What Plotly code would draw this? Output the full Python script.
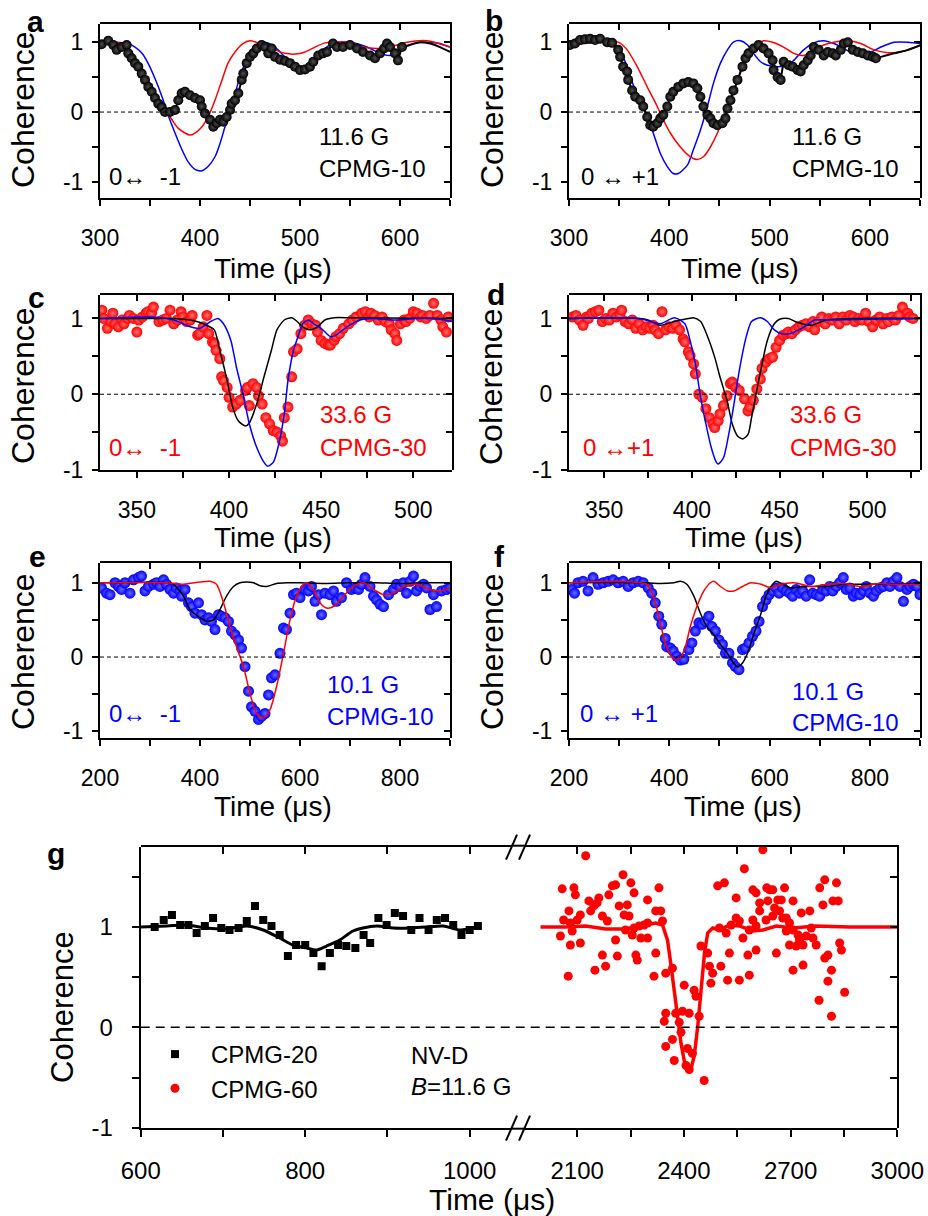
import plotly.graph_objects as go

W, H = 928, 1216
def fx(px): return px / W
def fy(py): return 1 - py / H

FONT = "Liberation Sans, Arial, sans-serif"
RED = "#ff0000"; BLUE = "#0000ff"; BLACK = "#000000"

# ---------------- panel a (0 <-> -1, 11.6 G, CPMG-10) ----------------
a_dat_x = [301.7, 308.3, 313.3, 316.7, 321.7, 326.7, 328.3, 331.7, 335, 338.3, 341.7, 345, 348.3, 351.7, 355, 358.3, 361.7, 365, 370, 375, 378.3, 381.7, 385, 390, 395, 400, 401.7, 405, 410, 413.3, 416.7, 420, 423.3, 426.7, 430, 431.7, 435, 438.3, 441.7, 443.3, 446.7, 450, 453.3, 456.7, 461.7, 465, 468.3, 471.7, 475, 480, 485, 490, 495, 500, 505, 510, 513.3, 518.3, 523, 527, 533, 537, 543, 550, 557, 563, 570, 575, 580, 584, 587, 590, 595, 598, 602]
a_dat_y = [0.97, 1.02, 0.96, 0.89, 0.93, 0.96, 0.84, 0.77, 0.70, 0.65, 0.55, 0.46, 0.36, 0.29, 0.20, 0.12, 0.07, 0.0, 0.0, 0.03, 0.17, 0.27, 0.29, 0.24, 0.20, 0.17, 0.08, -0.02, -0.11, -0.21, -0.16, -0.11, -0.14, -0.07, 0.03, 0.12, 0.17, 0.27, 0.46, 0.55, 0.70, 0.79, 0.84, 0.91, 0.96, 0.93, 0.84, 0.91, 0.79, 0.75, 0.73, 0.70, 0.65, 0.60, 0.61, 0.65, 0.72, 0.81, 0.84, 0.86, 0.98, 0.93, 0.93, 0.96, 0.91, 0.86, 0.81, 0.77, 0.84, 0.91, 0.98, 0.93, 0.84, 0.74, 0.93]
a_bk_x = [300, 301.7, None, 602, 610, 620, 630, 640, 650]
a_bk_y = [0.95, 0.97, None, 0.93, 0.96, 1.0, 0.98, 0.93, 0.86]
a_blue_x = [300, 315, 328, 335, 342, 348, 355, 362, 368, 375, 382, 388, 395, 402, 408, 415, 420, 425, 432, 438, 445, 452, 458, 465, 472, 478, 485, 492, 498, 505, 512, 518, 525, 533, 550, 567, 580, 590, 600, 613, 627, 640, 650]
a_blue_y = [0.99, 1.0, 0.98, 0.93, 0.84, 0.70, 0.48, 0.22, -0.04, -0.30, -0.54, -0.71, -0.82, -0.84, -0.78, -0.64, -0.45, -0.21, 0.10, 0.41, 0.70, 0.89, 0.98, 1.0, 0.96, 0.89, 0.79, 0.72, 0.65, 0.65, 0.74, 0.84, 0.91, 0.99, 1.0, 0.93, 0.84, 0.81, 0.89, 0.98, 1.0, 0.98, 0.93]
a_red_x = [300, 312, 322, 332, 338, 345, 352, 358, 365, 372, 378, 385, 390, 395, 402, 408, 415, 422, 428, 435, 443, 450, 458, 465, 475, 485, 495, 505, 515, 525, 535, 550, 563, 577, 590, 607, 627, 650]
a_red_y = [0.96, 1.0, 0.98, 0.84, 0.70, 0.53, 0.36, 0.20, 0.03, -0.11, -0.23, -0.30, -0.33, -0.30, -0.21, -0.07, 0.17, 0.46, 0.70, 0.86, 0.98, 1.02, 0.99, 0.96, 0.89, 0.84, 0.83, 0.86, 0.93, 0.99, 1.0, 1.0, 0.93, 0.91, 0.93, 1.0, 1.02, 0.93]

# ---------------- panel b (0 <-> +1, 11.6 G, CPMG-10) ----------------
b_dat_x = [301, 306, 311, 316, 321, 326, 331, 338, 343, 349, 351, 354, 358, 359, 363, 366, 371, 374, 378, 381, 384, 388, 391, 394, 398, 401, 404, 409, 414, 419, 424, 428, 431, 434, 438, 441, 444, 448, 453, 456, 458, 461, 464, 468, 473, 476, 479, 484, 489, 494, 499, 503, 504, 508, 511, 514, 519, 523, 528, 531, 534, 538, 541, 544, 549, 554, 558, 563, 566, 571, 574, 578, 583, 588, 593, 598, 603, 606]
b_dat_y = [0.96, 0.98, 1.03, 1.04, 1.05, 1.03, 1.05, 1.0, 0.99, 0.89, 0.79, 0.65, 0.58, 0.46, 0.31, 0.22, 0.17, 0.08, -0.07, -0.19, -0.21, -0.16, -0.09, -0.04, 0.08, 0.22, 0.29, 0.36, 0.41, 0.43, 0.41, 0.34, 0.22, 0.08, -0.04, -0.09, -0.16, -0.19, -0.16, -0.09, 0.05, 0.17, 0.31, 0.46, 0.65, 0.77, 0.84, 0.91, 0.96, 0.91, 0.84, 0.74, 0.60, 0.50, 0.46, 0.72, 0.67, 0.65, 0.60, 0.58, 0.67, 0.74, 0.81, 0.93, 0.89, 0.81, 0.86, 0.84, 0.81, 0.89, 0.98, 1.0, 0.89, 0.86, 0.84, 0.81, 0.79, 0.77]
b_bk_x = [300, 301, None, 606, 611, 624, 638, 651]
b_bk_y = [0.93, 0.96, None, 0.77, 0.79, 0.84, 0.89, 0.96]
b_red_x = [300, 320, 340, 349, 358, 368, 378, 388, 394, 401, 411, 421, 428, 434, 441, 448, 454, 461, 468, 474, 481, 488, 494, 503, 514, 524, 534, 544, 554, 564, 578, 591, 604, 618, 631, 651]
b_red_y = [0.95, 0.99, 1.0, 1.0, 0.89, 0.65, 0.36, 0.08, -0.11, -0.30, -0.50, -0.64, -0.68, -0.64, -0.50, -0.30, -0.07, 0.17, 0.46, 0.70, 0.89, 0.98, 1.02, 1.0, 0.93, 0.84, 0.81, 0.89, 0.96, 1.0, 1.02, 0.98, 0.89, 0.85, 0.86, 0.96]
b_blue_x = [300, 320, 340, 349, 358, 364, 371, 378, 384, 391, 398, 404, 409, 418, 424, 431, 438, 444, 451, 458, 464, 471, 478, 484, 491, 498, 508, 518, 524, 534, 544, 554, 564, 574, 583, 591, 601, 611, 624, 638, 651]
b_blue_y = [0.95, 0.99, 1.0, 0.93, 0.65, 0.39, 0.17, -0.07, -0.30, -0.59, -0.78, -0.88, -0.88, -0.76, -0.54, -0.26, 0.08, 0.41, 0.70, 0.89, 1.0, 1.02, 0.96, 0.84, 0.72, 0.67, 0.65, 0.67, 0.74, 0.89, 0.99, 1.02, 0.98, 0.91, 0.84, 0.84, 0.86, 0.93, 1.0, 1.0, 0.98]

# ---------------- panel c (0 <-> -1, 33.6 G, CPMG-30) ----------------
c_dat_x = [331, 332, 334, 336, 337, 338, 340, 342, 343, 345, 346, 348, 350, 351, 353, 355, 356, 358, 359, 362, 364, 366, 368, 370, 372, 374, 375, 377, 379, 380, 383, 384, 386, 388, 389, 391, 392, 393, 395, 396, 397, 399, 400, 402, 404, 406, 409, 410, 411, 413, 415, 416, 418, 420, 422, 424, 426, 428, 429, 430, 432, 434, 435, 437, 439, 441, 443, 445, 447, 448, 450, 452, 454, 455, 457, 458, 460, 462, 465, 467, 469, 472, 474, 476, 477, 479, 481, 483, 485, 487, 488, 490, 491, 493, 495, 496, 498, 500, 502, 504, 505, 507, 509, 511, 513, 515, 516, 518, 519]
c_dat_y = [1.11, 1.0, 0.87, 0.96, 1.07, 0.93, 0.89, 0.98, 0.93, 1.0, 1.04, 1.0, 0.82, 0.98, 1.02, 1.07, 1.09, 1.07, 1.15, 0.96, 0.98, 1.0, 1.11, 0.93, 0.98, 1.09, 1.02, 0.96, 0.98, 1.04, 0.78, 0.80, 0.89, 1.04, 0.80, 0.69, 0.67, 0.58, 0.47, 0.23, 0.18, 0.09, -0.04, -0.17, -0.13, -0.08, 0.05, 0.09, -0.15, 0.14, 0.09, -0.02, -0.13, -0.31, -0.39, -0.48, -0.50, -0.55, -0.62, -0.31, -0.17, 0.23, 0.56, 0.60, 0.80, 0.91, 0.98, 0.93, 0.91, 0.82, 0.71, 0.67, 0.65, 0.65, 0.71, 0.76, 0.80, 0.87, 0.93, 0.98, 1.02, 1.07, 1.09, 1.02, 1.07, 1.04, 0.98, 1.02, 0.96, 0.93, 0.85, 0.80, 0.71, 0.93, 0.98, 0.96, 1.0, 1.09, 1.07, 1.02, 1.04, 1.0, 1.04, 1.20, 1.04, 0.98, 0.89, 0.82, 1.02]
c_blue_x = [330, 357, 370, 379, 384, 390, 394, 397, 401, 404, 408, 411, 415, 419, 421, 424, 427, 430, 432, 435, 438, 440, 443, 446, 450, 455, 458, 464, 471, 478, 489, 502, 511, 521]
c_blue_y = [1.0, 1.02, 0.98, 0.89, 0.87, 0.96, 1.0, 0.93, 0.71, 0.36, -0.04, -0.39, -0.70, -0.90, -0.95, -0.90, -0.66, -0.26, 0.18, 0.58, 0.80, 0.93, 0.98, 0.93, 0.87, 0.76, 0.78, 0.89, 0.98, 1.0, 0.98, 1.0, 1.0, 0.96]
c_black_x = [330, 357, 370, 381, 387, 392, 395, 399, 402, 405, 409, 411, 415, 419, 423, 426, 430, 434, 437, 440, 444, 448, 452, 457, 466, 521]
c_black_y = [1.0, 1.0, 1.0, 0.97, 0.92, 0.85, 0.58, 0.18, -0.17, -0.35, -0.42, -0.38, -0.13, 0.23, 0.58, 0.85, 0.98, 1.01, 0.96, 0.89, 0.85, 0.89, 0.98, 1.01, 1.01, 1.0]

# ---------------- panel d (0 <-> +1, 33.6 G, CPMG-30) ----------------
d_dat_x = [332, 334, 336, 338, 340, 341, 343, 345, 347, 349, 351, 353, 355, 357, 359, 360, 362, 364, 366, 368, 370, 372, 374, 376, 378, 379, 381, 383, 385, 387, 389, 391, 393, 395, 396, 398, 399, 401, 402, 404, 406, 408, 410, 412, 413, 415, 416, 418, 420, 422, 423, 425, 427, 430, 432, 433, 435, 437, 439, 440, 442, 444, 446, 448, 450, 452, 454, 455, 457, 459, 461, 463, 465, 467, 469, 470, 472, 474, 476, 478, 480, 482, 484, 486, 488, 490, 492, 493, 495, 497, 499, 501, 503, 505, 507, 509, 511, 512, 514, 516, 518, 520, 523, 524, 526]
d_dat_y = [1.02, 1.04, 0.98, 0.91, 1.02, 1.0, 1.07, 1.09, 1.11, 0.96, 1.0, 0.98, 1.07, 1.02, 1.04, 1.11, 0.96, 0.93, 0.98, 0.87, 0.93, 0.85, 0.89, 0.87, 0.91, 0.85, 0.80, 1.09, 0.85, 0.89, 0.87, 0.91, 0.85, 0.73, 0.69, 0.56, 0.51, 0.40, 0.27, 0.0, -0.04, -0.19, -0.31, -0.39, -0.44, -0.35, -0.26, -0.15, -0.02, 0.14, 0.16, 0.09, 0.05, -0.06, -0.22, -0.17, -0.08, 0.07, 0.20, 0.34, 0.42, 0.47, 0.49, 0.62, 0.71, 0.78, 0.80, 0.82, 0.80, 0.85, 0.89, 0.91, 0.93, 0.89, 0.96, 0.85, 0.96, 1.02, 0.93, 1.0, 0.98, 1.02, 0.93, 1.02, 0.98, 1.04, 1.02, 0.96, 1.0, 0.98, 1.07, 0.96, 0.89, 0.98, 1.02, 0.93, 1.0, 0.96, 1.02, 0.98, 1.04, 1.15, 1.07, 1.02, 1.0]
d_blue_x = [330, 370, 382, 390, 396, 399, 402, 405, 408, 411, 414, 415, 418, 421, 424, 427, 431, 434, 439, 443, 447, 451, 456, 464, 470, 477, 530]
d_blue_y = [1.0, 1.0, 0.93, 1.01, 0.93, 0.71, 0.40, -0.04, -0.39, -0.70, -0.90, -0.92, -0.84, -0.53, -0.13, 0.31, 0.76, 0.96, 1.01, 0.96, 0.85, 0.80, 0.80, 0.89, 0.98, 0.98, 1.0]
d_black_x = [330, 370, 375, 382, 390, 398, 401, 405, 409, 413, 416, 420, 423, 426, 429, 432, 434, 437, 440, 443, 447, 450, 455, 460, 468, 477, 530]
d_black_y = [1.0, 1.0, 0.98, 0.91, 0.96, 1.0, 1.01, 0.96, 0.76, 0.49, 0.23, -0.08, -0.39, -0.55, -0.59, -0.53, -0.31, 0.05, 0.40, 0.71, 0.93, 0.99, 1.0, 0.95, 0.91, 0.98, 1.0]

# ---------------- panel e (0 <-> -1, 10.1 G, CPMG-10) ----------------
e_dat_x = [203, 213, 220, 230, 237, 243, 250, 260, 267, 277, 283, 290, 297, 307, 313, 320, 327, 333, 340, 347, 353, 360, 363, 370, 377, 383, 390, 397, 403, 410, 417, 423, 430, 437, 443, 450, 457, 463, 470, 477, 483, 490, 497, 503, 510, 517, 523, 530, 537, 543, 550, 560, 567, 573, 580, 587, 593, 600, 610, 617, 623, 630, 637, 643, 650, 660, 667, 673, 683, 693, 703, 710, 717, 723, 730, 740, 747, 753, 760, 767, 777, 787, 793, 800, 807, 813, 820, 827, 833, 840, 847, 853, 860, 867, 873, 883, 893, 900]
e_dat_y = [0.93, 0.86, 0.84, 1.0, 0.95, 0.91, 1.0, 0.86, 1.04, 1.07, 1.09, 0.89, 0.95, 0.98, 1.0, 0.95, 1.04, 0.98, 0.91, 0.86, 0.93, 0.89, 0.82, 0.91, 0.73, 0.68, 0.59, 0.73, 0.57, 0.50, 0.53, 0.48, 0.37, 0.57, 0.55, 0.53, 0.48, 0.35, 0.30, 0.23, 0.12, -0.13, -0.46, -0.67, -0.73, -0.84, -0.80, -0.76, -0.51, -0.28, -0.24, 0.05, 0.39, 0.37, 0.59, 0.84, 0.86, 0.80, 0.91, 0.89, 0.95, 0.75, 0.84, 0.57, 0.86, 0.84, 0.89, 0.75, 0.80, 1.0, 0.91, 0.93, 0.91, 0.98, 1.07, 0.95, 0.82, 0.77, 0.71, 0.68, 0.84, 0.91, 0.98, 0.95, 1.0, 0.86, 1.02, 1.09, 0.89, 0.95, 0.98, 0.93, 0.64, 0.84, 0.68, 0.89, 0.91, 0.93]
e_red_x = [200, 333, 367, 400, 420, 433, 447, 460, 473, 487, 500, 513, 527, 540, 553, 567, 580, 593, 607, 613, 627, 640, 653, 667, 687, 707, 727, 747, 767, 787, 807, 833, 860, 880, 900]
e_red_y = [1.0, 1.0, 0.98, 1.01, 1.02, 0.98, 0.73, 0.41, 0.14, -0.13, -0.49, -0.76, -0.82, -0.71, -0.40, 0.05, 0.50, 0.82, 0.98, 1.0, 0.91, 0.73, 0.66, 0.68, 0.82, 0.95, 1.0, 0.91, 0.84, 0.86, 0.95, 0.98, 0.91, 0.89, 0.93]
e_black_x = [200, 340, 347, 367, 380, 400, 413, 427, 440, 453, 467, 480, 493, 507, 520, 533, 553, 573, 600, 650, 700, 750, 800, 850, 900]
e_black_y = [1.0, 1.0, 0.98, 0.82, 0.64, 0.53, 0.48, 0.50, 0.64, 0.82, 0.95, 1.0, 1.01, 1.0, 0.96, 0.95, 0.99, 1.0, 1.0, 0.99, 1.0, 1.0, 0.99, 1.0, 1.0]

# ---------------- panel f (0 <-> +1, 10.1 G, CPMG-10) ----------------
f_dat_x = [205, 211, 218, 228, 238, 248, 258, 268, 278, 288, 298, 308, 318, 328, 338, 348, 358, 365, 372, 379, 385, 392, 395, 402, 408, 415, 422, 429, 439, 445, 452, 459, 465, 472, 479, 485, 492, 499, 506, 512, 519, 526, 532, 539, 546, 552, 559, 566, 573, 579, 586, 593, 599, 606, 613, 619, 626, 633, 640, 646, 653, 660, 666, 673, 680, 686, 693, 700, 706, 713, 720, 726, 733, 740, 747, 753, 760, 767, 773, 780, 787, 793, 800, 807, 813, 820, 827, 834, 840, 847, 854, 860, 867, 874, 880, 887, 894, 900]
f_dat_y = [0.91, 0.86, 1.0, 1.02, 0.89, 1.07, 0.98, 1.0, 1.02, 1.04, 1.0, 1.02, 0.95, 1.0, 1.02, 1.0, 0.93, 0.86, 0.73, 0.55, 0.44, 0.25, 0.14, 0.12, 0.08, 0.01, -0.04, -0.03, 0.10, 0.19, 0.35, 0.46, 0.44, 0.48, 0.55, 0.41, 0.35, 0.23, 0.17, 0.05, 0.05, -0.08, -0.13, -0.17, 0.10, 0.12, 0.19, 0.28, 0.35, 0.48, 0.68, 0.77, 0.84, 0.89, 0.93, 0.86, 0.93, 0.89, 0.86, 0.82, 0.91, 0.86, 0.89, 0.82, 1.04, 0.86, 0.84, 0.82, 0.91, 0.89, 0.95, 0.89, 0.95, 1.0, 1.07, 0.91, 0.93, 0.82, 0.86, 0.84, 0.89, 0.95, 0.86, 0.82, 0.89, 0.93, 0.95, 1.0, 0.95, 1.02, 1.07, 0.95, 0.75, 0.91, 0.95, 0.98, 0.95, 0.84]
f_red_x = [200, 355, 368, 382, 392, 402, 412, 422, 432, 442, 455, 469, 482, 489, 502, 516, 529, 546, 563, 583, 603, 623, 649, 683, 716, 750, 783, 817, 850, 900]
f_red_y = [1.0, 0.98, 0.82, 0.46, 0.19, 0.03, -0.04, -0.01, 0.14, 0.41, 0.68, 0.89, 1.0, 1.02, 0.95, 0.89, 0.89, 0.95, 1.0, 0.98, 0.93, 0.98, 1.0, 0.95, 0.98, 0.99, 0.95, 0.99, 0.98, 0.98]
f_black_x = [200, 355, 382, 409, 422, 435, 449, 462, 475, 489, 502, 516, 526, 536, 546, 556, 569, 583, 593, 603, 613, 626, 643, 663, 690, 716, 750, 783, 900]
f_black_y = [1.0, 1.0, 0.99, 1.0, 1.02, 0.98, 0.82, 0.59, 0.41, 0.30, 0.17, 0.05, -0.06, -0.13, -0.08, 0.05, 0.32, 0.59, 0.82, 0.95, 1.02, 0.98, 0.93, 0.95, 0.95, 0.95, 0.98, 0.98, 0.99]

# ---------------- panel g (NV-D, B = 11.6 G) ----------------
g_sq_x = [617, 628, 638, 648, 658, 668, 678, 688, 698, 708, 719, 729, 739, 749, 759, 769, 779, 789, 800, 810, 820, 830, 840, 850, 861, 871, 879, 889, 899, 909, 919, 929, 939, 950, 960, 970, 980, 990, 1000, 1010]
g_sq_y = [1.0, 1.07, 1.12, 1.02, 1.02, 0.94, 1.01, 1.09, 0.99, 0.97, 0.99, 1.06, 1.21, 1.07, 1.01, 0.92, 0.71, 0.82, 0.82, 0.74, 0.61, 0.74, 0.82, 0.81, 0.79, 0.92, 0.84, 1.09, 1.02, 1.14, 1.11, 0.97, 1.09, 0.97, 1.07, 1.09, 1.02, 0.92, 0.97, 1.01]
g_sq_fit_x = [600, 632, 656, 680, 704, 729, 749, 769, 785, 802, 814, 826, 842, 858, 870, 887, 907, 927, 947, 968, 988, 1010]
g_sq_fit_y = [1.0, 1.01, 1.02, 0.99, 0.98, 1.01, 0.97, 0.89, 0.82, 0.79, 0.77, 0.81, 0.87, 0.96, 0.99, 1.01, 0.99, 0.99, 1.0, 1.01, 0.97, 1.0]
g_ci_x = [2124, 2058, 2091, 2095, 2077, 2062, 2081, 2053, 2086, 2081, 2109, 2075, 2100, 2109, 2133, 2138, 2147, 2161, 2156, 2171, 2185, 2189, 2199, 2208, 2218, 2232, 2241, 2246, 2229, 2251, 2260, 2236, 2255, 2208, 2171, 2180, 2150, 2213, 2265, 2269, 2260, 2274, 2288, 2298, 2279, 2298, 2298, 2321, 2335, 2330, 2340, 2321, 2316, 2349, 2368, 2401, 2396, 2349, 2345, 2377, 2415, 2429, 2434, 2443, 2448, 2467, 2472, 2476, 2481, 2504, 2495, 2514, 2528, 2523, 2556, 2584, 2580, 2603, 2500, 2519, 2533, 2547, 2556, 2566, 2547, 2570, 2594, 2603, 2613, 2603, 2584, 2594, 2613, 2633, 2622, 2349, 2368, 2373, 2406, 2415, 2410, 2424, 2457, 2392, 2387, 2641, 2650, 2664, 2683, 2636, 2655, 2674, 2707, 2688, 2669, 2631, 2650, 2678, 2697, 2730, 2754, 2707, 2721, 2725, 2744, 2763, 2772, 2697, 2716, 2735, 2707, 2735, 2660, 2782, 2796, 2829, 2834, 2791, 2819, 2838, 2843, 2805, 2796, 2815, 2805, 2780, 2815, 2852, 2688, 2758]
g_ci_y = [1.71, 1.38, 1.39, 1.32, 1.16, 1.07, 1.04, 0.91, 0.96, 0.82, 0.84, 0.51, 1.07, 1.12, 1.26, 1.16, 1.21, 1.29, 1.24, 1.11, 1.06, 1.32, 1.41, 1.42, 1.21, 1.12, 1.22, 1.11, 1.52, 1.44, 1.34, 0.97, 0.92, 0.87, 0.72, 0.61, 0.57, 0.71, 0.72, 0.67, 0.99, 1.01, 1.02, 1.04, 0.89, 0.89, 1.27, 1.16, 1.16, 1.39, 1.06, 0.74, 0.51, 0.54, 0.59, 0.42, 0.16, 0.14, 0.06, 0.14, 0.14, 0.37, 0.31, 0.11, 0.81, 0.74, 0.61, 0.44, 0.54, 0.61, 1.41, 1.44, 0.74, 0.47, 0.47, 0.52, 0.72, 0.77, 0.99, 0.94, 1.02, 1.09, 1.06, 0.89, 1.29, 1.58, 1.37, 1.34, 1.24, 1.01, 0.97, 1.07, 1.16, 1.39, 1.77, -0.19, -0.12, -0.33, -0.38, -0.42, -0.21, -0.26, -0.53, -0.05, 0.05, 1.37, 1.37, 1.27, 1.39, 1.26, 1.19, 1.27, 1.26, 1.09, 1.16, 1.07, 1.11, 1.09, 1.04, 1.14, 1.16, 0.97, 0.92, 0.87, 0.91, 0.89, 0.82, 0.82, 0.81, 0.82, 0.57, 0.62, 0.74, 1.39, 1.47, 1.44, 1.26, 1.22, 1.26, 0.84, 0.77, 0.72, 0.69, 0.57, 0.46, 0.27, 0.11, 0.35, 0.96, 0.99]
g_ci_fit_x = [1997, 2067, 2124, 2180, 2236, 2283, 2321, 2340, 2354, 2363, 2373, 2382, 2392, 2401, 2410, 2420, 2429, 2439, 2448, 2458, 2467, 2481, 2500, 2528, 2556, 2594, 2622, 2660, 2707, 2772, 2866, 3000]
g_ci_fit_y = [1.0, 1.0, 1.01, 0.98, 0.98, 1.01, 1.04, 1.02, 0.87, 0.64, 0.37, 0.11, -0.16, -0.33, -0.41, -0.41, -0.29, 0.01, 0.37, 0.74, 0.94, 0.99, 0.97, 1.02, 1.01, 0.96, 0.97, 1.01, 0.99, 1.01, 1.0, 1.0]

# y tick labels use a plain hyphen as in the original
Y_TICKS = [-1, 0, 1]
Y_TEXT = ["-1", "0", "1"]

# ====================================================================
fig = go.Figure()
layout = {}

def ref(kind, n):
    return kind if n == 1 else f"{kind}{n}"

def key(kind, n):
    return f"{kind}axis" if n == 1 else f"{kind}axis{n}"

def axis(dom, rng, dtick, minor, anchor, side, labels=True,
         fsz=23, standoff=4, ticklen=6, horizontal=True):
    inside = side in ("top", "right")
    tk = "inside" if inside else "outside"
    d = dict(range=rng, ticks=tk, ticklen=ticklen, tickwidth=2, tickcolor="black",
             showline=True, linewidth=2, linecolor="black",
             showgrid=False, zeroline=False, automargin=False,
             showticklabels=labels, side=side, anchor=anchor,
             tickfont=dict(family=FONT, size=fsz, color="black"), fixedrange=True,
             minor=dict(tickmode="linear", tick0=0, dtick=minor, ticks=tk, ticklen=ticklen,
                        tickwidth=2, tickcolor="black", showgrid=False))
    if horizontal:
        d.update(tickmode="linear", tick0=0, dtick=dtick)
    else:
        d.update(tickmode="array", tickvals=Y_TICKS, ticktext=Y_TEXT)
    if labels:
        d["ticklabelstandoff"] = standoff
    d["domain"] = [fx(dom[0]), fx(dom[1])] if horizontal else [fy(dom[1]), fy(dom[0])]
    return d

def dummy(xr_, yr_):
    fig.add_trace(go.Scatter(x=[None], y=[None], xaxis=xr_, yaxis=yr_, mode="markers",
                             showlegend=False, hoverinfo="skip"))

shapes = []

def pline(x0, y0, x1, y1, w=2):
    # decoration in page pixels (axis-break marks)
    shapes.append(dict(type="line", xref="paper", yref="paper",
                       x0=fx(x0), y0=fy(y0), x1=fx(x1), y1=fy(y1),
                       line=dict(color="black", width=w), layer="above"))

def panel(i, xd, yd, xr, yr, xdt, xmn, ydt=1, ymn=0.5):
    xm, ym = ref("x", i), ref("y", i)
    xt, yt = ref("x", 10 + i), ref("y", 10 + i)
    layout[key("x", i)] = axis(xd, xr, xdt, xmn, ym, "bottom", standoff=12)
    layout[key("y", i)] = axis(yd, yr, ydt, ymn, xm, "left", standoff=4, horizontal=False)
    layout[key("x", 10 + i)] = axis(xd, xr, xdt, xmn, yt, "top", labels=False)
    layout[key("y", 10 + i)] = axis(yd, yr, ydt, ymn, xt, "right", labels=False, horizontal=False)
    return xm, ym, xt, yt

def line(xa, ya, x, y, color, width=1.5):
    fig.add_trace(go.Scatter(x=x, y=y, mode="lines", xaxis=xa, yaxis=ya,
                             line=dict(color=color, width=width, shape="spline", smoothing=0.7),
                             showlegend=False, hoverinfo="skip"))

def dots(xa, ya, x, y, color, hl, size=10, connect=False):
    fig.add_trace(go.Scatter(x=x, y=y, mode="lines+markers" if connect else "markers",
                             xaxis=xa, yaxis=ya,
                             line=dict(color=color, width=2),
                             marker=dict(color=color, size=size, line=dict(width=0),
                                         gradient=dict(type="radial", color=hl)),
                             showlegend=False, hoverinfo="skip"))

def zero_line(xa, ya):
    shapes.append(dict(type="line", xref=f"{xa} domain", yref=ya, x0=0, x1=1, y0=0, y1=0,
                       line=dict(color="black", width=1, dash="4px,3px")))

YR_AB = [-1.23, 1.26]
YR_CD = [-1.0, 1.31]
YR_EF = [-1.09, 1.266]
HL_K, HL_R, HL_B = "#505050", "#ff7070", "#6a6aff"

frames = []
# a
xa, ya, xt, yt = panel(1, [100, 450], [24, 198], [300, 650], YR_AB, 100, 50)
frames.append((xt, yt))
zero_line(xa, ya)
line(xa, ya, a_blue_x, a_blue_y, BLUE)
line(xa, ya, a_red_x, a_red_y, RED)
line(xa, ya, a_bk_x, a_bk_y, BLACK, 2)
dots(xa, ya, a_dat_x, a_dat_y, BLACK, HL_K, 10, connect=True)
# b
xa, ya, xt, yt = panel(2, [569, 920], [24, 198], [300, 650], YR_AB, 100, 50)
frames.append((xt, yt))
zero_line(xa, ya)
line(xa, ya, b_blue_x, b_blue_y, BLUE)
line(xa, ya, b_red_x, b_red_y, RED)
line(xa, ya, b_bk_x, b_bk_y, BLACK, 2)
dots(xa, ya, b_dat_x, b_dat_y, BLACK, HL_K, 10, connect=True)
# c
xa, ya, xt, yt = panel(3, [100, 452], [295, 470], [330, 521], YR_CD, 50, 25)
frames.append((xt, yt))
zero_line(xa, ya)
dots(xa, ya, c_dat_x, c_dat_y, RED, HL_R, 11)
line(xa, ya, c_black_x, c_black_y, BLACK)
line(xa, ya, c_blue_x, c_blue_y, BLUE)
# d
xa, ya, xt, yt = panel(4, [569, 920], [295, 470], [330, 530], YR_CD, 50, 25)
frames.append((xt, yt))
zero_line(xa, ya)
dots(xa, ya, d_dat_x, d_dat_y, RED, HL_R, 11)
line(xa, ya, d_black_x, d_black_y, BLACK)
line(xa, ya, d_blue_x, d_blue_y, BLUE)
# e
xa, ya, xt, yt = panel(5, [100, 450], [563, 738], [200, 900], YR_EF, 200, 100)
frames.append((xt, yt))
zero_line(xa, ya)
dots(xa, ya, e_dat_x, e_dat_y, BLUE, HL_B, 11)
line(xa, ya, e_black_x, e_black_y, BLACK)
line(xa, ya, e_red_x, e_red_y, RED)
# f
xa, ya, xt, yt = panel(6, [569, 920], [563, 738], [200, 900], YR_EF, 200, 100)
frames.append((xt, yt))
zero_line(xa, ya)
dots(xa, ya, f_dat_x, f_dat_y, BLUE, HL_B, 11)
line(xa, ya, f_black_x, f_black_y, BLACK)
line(xa, ya, f_red_x, f_red_y, RED)

# g : broken x axis
GXL = [140.7, 510.8]; GXR = [524.5, 897.3]; GY = [846.7, 1127.7]
GYR = [-1.0, 1.8]
layout["xaxis7"] = axis(GXL, [600, 1050], 200, 100, "y7", "bottom", fsz=24, standoff=13, ticklen=7)
layout["yaxis7"] = axis(GY, GYR, 1, 0.5, "x7", "left", fsz=24, standoff=14, ticklen=7, horizontal=False)
layout["xaxis8"] = axis(GXR, [1952, 3000], 300, 150, "y7", "bottom", fsz=24, standoff=13, ticklen=7)
layout["xaxis17"] = axis(GXL, [600, 1050], 200, 100, "y17", "top", labels=False, ticklen=7)
layout["xaxis18"] = axis(GXR, [1952, 3000], 300, 150, "y17", "top", labels=False, ticklen=7)
layout["yaxis17"] = axis(GY, GYR, 1, 0.5, "x18", "right", labels=False, ticklen=7, horizontal=False)

# axis-break: join the top / bottom edges across the gap and draw the // marks
for yy, off in ((GY[0], -1), (GY[1], 1)):
    pline(GXL[1], yy + off, GXR[0], yy + off)
    for x0 in (506, 519):
        pline(x0, yy + 13, x0 + 11, yy - 12)

shapes.append(dict(type="line", xref="paper", yref="y7", x0=fx(GXL[0]), x1=fx(GXR[1]), y0=0, y1=0,
                   line=dict(color="black", width=1.5, dash="9px,6px")))

fig.add_trace(go.Scatter(x=g_sq_x, y=g_sq_y, mode="markers", xaxis="x7", yaxis="y7",
                         marker=dict(symbol="square", color=BLACK, size=8),
                         name="CPMG-20", showlegend=True, hoverinfo="skip"))
line("x7", "y7", g_sq_fit_x, g_sq_fit_y, BLACK, 3)
fig.add_trace(go.Scatter(x=g_ci_x, y=g_ci_y, mode="markers", xaxis="x8", yaxis="y7",
                         marker=dict(symbol="circle", color=RED, size=9),
                         name="CPMG-60", showlegend=True, hoverinfo="skip"))
fig.add_trace(go.Scatter(x=g_ci_fit_x, y=g_ci_fit_y, mode="lines", xaxis="x8", yaxis="y7",
                         line=dict(color=RED, width=3.5), showlegend=False, hoverinfo="skip"))

# frame subplots (top / right axes with inward ticks)
for xt, yt in frames:
    dummy(xt, yt)
dummy("x17", "y17")
dummy("x18", "y17")

# ---------------- annotations ----------------
ann = []
def txt(s, px, py, size=24, color="black", xanchor="left", bold=False, angle=0):
    if bold:
        s = f"<b>{s}</b>"
    ann.append(dict(text=s, x=fx(px), y=fy(py), xref="paper", yref="paper", showarrow=False,
                    xanchor=xanchor, yanchor="middle", textangle=angle,
                    font=dict(family=FONT, size=size, color=color)))

for lab, px, py in (("a", 35, 22), ("b", 494, 20), ("c", 36, 297), ("d", 496, 294),
                    ("e", 37, 557), ("f", 499, 556), ("g", 56, 853)):
    txt(lab, px, py, size=30, xanchor="center", bold=True)

for tx, ty in ((273, 268), (740, 268), (273, 537), (744, 537), (273, 806), (743, 806)):
    txt("Time (μs)", tx, ty, size=28, xanchor="center")
for cx, cy in ((23, 110), (492, 110), (23, 386), (491, 386), (23, 652), (492, 652)):
    txt("Coherence", cx, cy, size=32, xanchor="center", angle=-90)
txt("Time (μs)", 492, 1199, size=30, xanchor="center")
txt("Coherence", 62, 1007, size=31, xanchor="center", angle=-90)

txt("11.6 G", 317, 137); txt("CPMG-10", 317, 168); txt("0↔  -1", 107, 176)
txt("11.6 G", 790, 137); txt("CPMG-10", 790, 168); txt("0 ↔ +1", 579, 176)
txt("33.6 G", 318, 415, color=RED); txt("CPMG-30", 318, 447, color=RED); txt("0↔  -1", 107, 447, color=RED)
txt("33.6 G", 788, 415, color=RED); txt("CPMG-30", 788, 447, color=RED); txt("0 ↔+1", 581, 447, color=RED)
txt("10.1 G", 325, 684, color=BLUE); txt("CPMG-10", 325, 716, color=BLUE); txt("0↔  -1", 107, 713, color=BLUE)
txt("10.1 G", 790, 691, color=BLUE); txt("CPMG-10", 790, 722, color=BLUE); txt("0 ↔ +1", 578, 713, color=BLUE)
txt("NV-D", 409, 1055); txt("<i>B</i>=11.6 G", 409, 1086)

fig.update_layout(**layout)
fig.update_layout(template="none", width=W, height=H, autosize=False,
                  margin=dict(l=0, r=0, t=0, b=0, pad=0),
                  paper_bgcolor="white", plot_bgcolor="rgba(0,0,0,0)",
                  font=dict(family=FONT, color="black"),
                  shapes=shapes, annotations=ann,
                  showlegend=True,
                  legend=dict(x=fx(139), y=fy(1032), xanchor="left", yanchor="top",
                              bgcolor="rgba(0,0,0,0)", font=dict(family=FONT, size=24),
                              tracegroupgap=0, itemwidth=62))

fig.write_html("out.html")
